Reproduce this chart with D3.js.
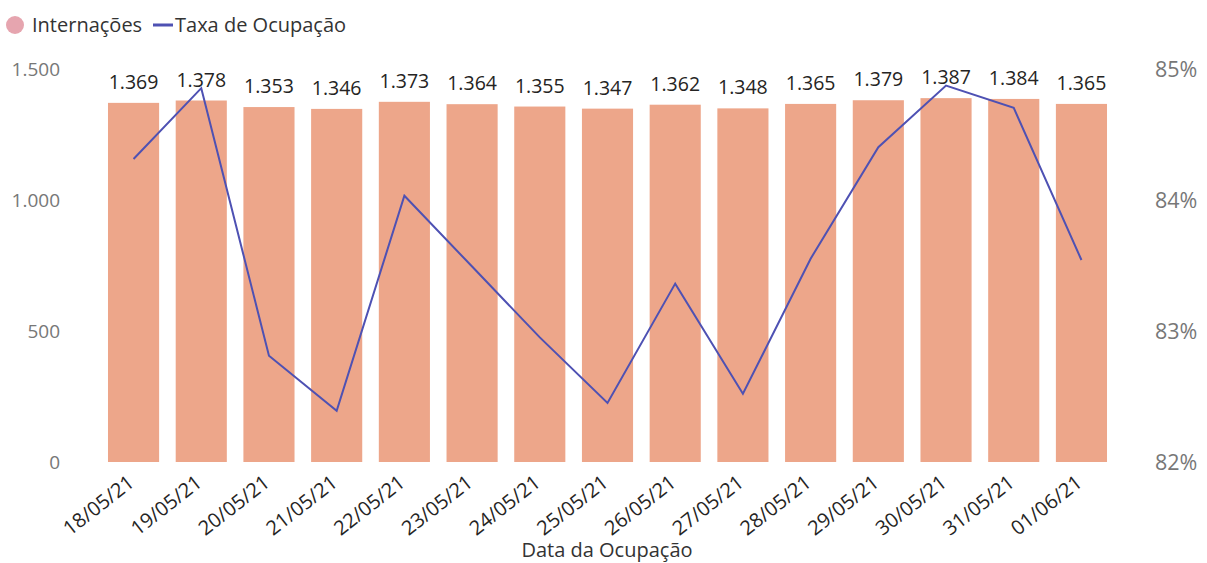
<!DOCTYPE html>
<html><head><meta charset="utf-8">
<script src="https://cdn.jsdelivr.net/npm/d3@7"></script>
<style>body{margin:0;background:#fff;} svg{display:block;font-family:"Open Sans",sans-serif;}</style>
</head><body><svg id="c" width="1207" height="563"></svg>
<script>
const categories = ["18/05/21","19/05/21","20/05/21","21/05/21","22/05/21","23/05/21","24/05/21","25/05/21","26/05/21","27/05/21","28/05/21","29/05/21","30/05/21","31/05/21","01/06/21"];
const internacoes = [1369,1378,1353,1346,1373,1364,1355,1347,1362,1348,1365,1379,1387,1384,1365];
const taxaOcupacao = [84.31,84.85,82.81,82.39,84.03,83.49,82.95,82.45,83.36,82.52,83.55,84.40,84.87,84.70,83.54];
const leftTicks = [0,500,1000,1500];
const rightTicks = [82,83,84,85];

(function(){
const svg = d3.select("#c");
const plotTop = 68.5, plotBottom = 462;
const x = d3.scaleBand().domain(categories).range([99.7,1115.3]).paddingInner(0.245).paddingOuter(0.1225);
const yL = d3.scaleLinear().domain([0,1500]).range([plotBottom,plotTop]);
const yR = d3.scaleLinear().domain([82,85]).range([plotBottom,plotTop]);
const fmt = d3.formatLocale({decimal:",",thousands:".",grouping:[3],currency:["R$",""]}).format(",d");

svg.append("g").selectAll("rect").data(categories).join("rect")
  .attr("x",d=>x(d)).attr("width",x.bandwidth())
  .attr("y",(d,i)=>yL(internacoes[i])).attr("height",(d,i)=>plotBottom-yL(internacoes[i]))
  .attr("fill","#EDA68A");

const line = d3.line().x((d,i)=>x(categories[i])+x.bandwidth()/2).y(d=>yR(d));
svg.append("path").datum(taxaOcupacao).attr("d",line).attr("fill","none")
  .attr("stroke","#4E51B3").attr("stroke-width",2);

svg.append("g").selectAll("text").data(categories).join("text")
  .attr("x",d=>x(d)+x.bandwidth()/2).attr("y",(d,i)=>yL(internacoes[i])-14)
  .attr("text-anchor","middle").attr("font-size",19.5).attr("fill","#252423")
  .text((d,i)=>fmt(internacoes[i]));

const gl = svg.append("g").attr("transform","translate(60,0)")
  .call(d3.axisLeft(yL).tickValues(leftTicks).tickFormat(fmt).tickSize(0).tickPadding(0));
gl.select(".domain").remove();
gl.selectAll("text").attr("font-size",19).attr("fill","#777").attr("font-family","Open Sans").attr("dy","0.35em");

const gr = svg.append("g").attr("transform","translate(1155,0)")
  .call(d3.axisRight(yR).tickValues(rightTicks).tickFormat(d=>d+"%").tickSize(0).tickPadding(0));
gr.select(".domain").remove();
gr.selectAll("text").attr("font-size",21.5).attr("fill","#777").attr("font-family","Open Sans").attr("dy","0.35em");

const gx = svg.append("g").attr("transform",`translate(0,${plotBottom})`)
  .call(d3.axisBottom(x).tickSize(0).tickPadding(0));
gx.select(".domain").remove();
gx.selectAll("text").attr("font-size",20).attr("fill","#252423").attr("font-family","Open Sans")
  .attr("text-anchor","end").attr("dy",0).attr("y",0)
  .attr("transform","translate(2,23) rotate(-38)");

svg.append("text").attr("x",607).attr("y",557).attr("text-anchor","middle")
  .attr("font-size",20).attr("fill","#333").text("Data da Ocupação");

const lg = svg.append("g");
lg.append("circle").attr("cx",15).attr("cy",25).attr("r",9).attr("fill","#E6A5AF");
lg.append("text").attr("x",32).attr("y",25).attr("dy","0.35em").attr("font-size",20).attr("fill","#333").text("Internações");
lg.append("line").attr("x1",153).attr("x2",173).attr("y1",25).attr("y2",25).attr("stroke","#4E51B3").attr("stroke-width",3);
lg.append("text").attr("x",175).attr("y",25).attr("dy","0.35em").attr("font-size",20).attr("fill","#333").text("Taxa de Ocupação");
})();
</script></body></html>
